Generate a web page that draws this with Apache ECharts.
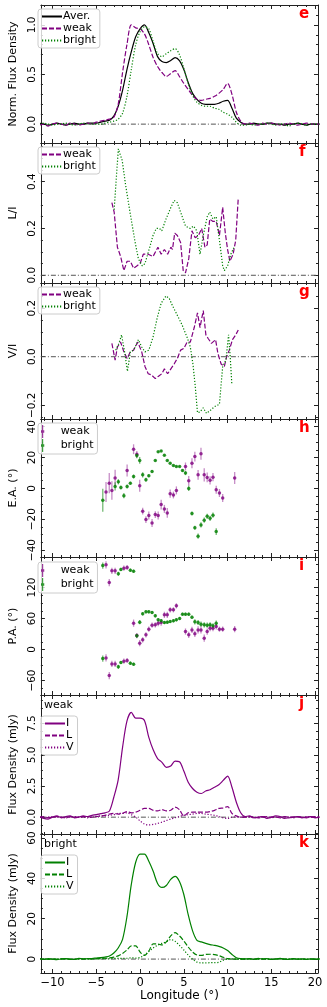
<!DOCTYPE html>
<html>
<head>
<meta charset="utf-8">
<script src="https://cdn.jsdelivr.net/npm/echarts@6/dist/echarts.min.js"></script>
<style>
  html, body { margin: 0; padding: 0; background: #fff; }
  #chart { width: 327px; height: 1007px; }
</style>
</head>
<body>
<div id="chart"></div>
<script>
// ---- longitude grid for the profiles (deg) ----
const lonGrid = [
  -11.5, -11, -10.5, -10, -9.5, -9, -8.5, -8, -7.5, -7, -6.5, -6, -5.5,
  -5, -4.5, -4, -3.5, -3, -2.5, -2, -1.5, -1, -0.5, 0, 0.5, 1, 1.5, 2, 2.5, 3, 3.5, 4, 4.5,
  5, 5.5, 6, 6.5, 7, 7.5, 8, 8.5, 9, 9.5, 10, 10.5, 11, 11.5, 12,
  12.5, 13, 13.5, 14, 14.5, 15, 15.5, 16, 16.5, 17, 17.5, 18, 18.5, 19, 19.5, 20, 20.5
];

// panel e : normalised profiles
const normAver = [
  0.01, 0.0, -0.01, 0.0, 0.01, 0.0, -0.01, 0.0, 0.01, 0.0, 0.0, 0.01, 0.01,
  0.01, 0.02, 0.03, 0.04, 0.08, 0.18, 0.34, 0.55, 0.73, 0.88, 0.96, 1.0, 0.92, 0.81, 0.68,
  0.63, 0.62, 0.64, 0.67, 0.64, 0.55, 0.42, 0.31, 0.25, 0.21, 0.2, 0.2, 0.2, 0.21, 0.23,
  0.24, 0.16, 0.06, 0.02, 0.0,
  0.0, 0.01, 0.0, 0.0, 0.01, 0.01, 0.0, 0.0, -0.01, 0.0, 0.0, 0.01, 0.0, -0.01, 0.0, 0.0, 0.0
];
const normWeak = [
  -0.01, 0.0, -0.02, 0.0, 0.01, 0.0, -0.01, 0.01, 0.0, -0.01, 0.0, 0.01, 0.0,
  0.02, 0.03, 0.04, 0.05, 0.07, 0.2, 0.52, 0.8, 1.0, 0.97, 0.96, 0.91, 0.8, 0.67, 0.58,
  0.52, 0.48, 0.51, 0.54, 0.48, 0.41, 0.35, 0.29, 0.25, 0.24, 0.25, 0.26, 0.28, 0.31, 0.35,
  0.41, 0.3, 0.12, 0.03, 0.0,
  0.01, 0.0, -0.01, 0.01, 0.0, 0.01, 0.0, -0.01, 0.0, 0.01, 0.0, -0.01, 0.0, 0.01, 0.0, 0.0, 0.0
];
const normBright = [
  0.0, 0.01, 0.0, -0.01, 0.0, 0.0, 0.01, 0.0, -0.01, 0.0, 0.01, 0.0, 0.0,
  0.0, 0.0, 0.01, 0.02, 0.03, 0.05, 0.11, 0.28, 0.55, 0.8, 0.93, 0.98, 0.96, 0.83, 0.71,
  0.68, 0.71, 0.74, 0.76, 0.7, 0.56, 0.41, 0.29, 0.22, 0.19, 0.18, 0.18, 0.16, 0.15, 0.12,
  0.1, 0.07, 0.02, -0.01, -0.01,
  0.0, -0.01, 0.0, 0.0, 0.01, 0.0, -0.01, 0.0, 0.0, -0.02, 0.0, 0.01, 0.0, -0.01, 0.0, 0.0, 0.0
];

// panel f : L/I  [lon, value]
const weakLI = [
  [-3.22, 0.31], [-2.96, 0.27], [-2.59, 0.12], [-2.22, 0.08], [-1.85, 0.02], [-1.48, 0.06],
  [-1.11, 0.06], [-0.74, 0.03], [-0.37, 0.04], [0, 0.05], [0.37, 0.09], [0.93, 0.09],
  [1.48, 0.08], [2.04, 0.12], [2.41, 0.09], [2.78, 0.11], [3.15, 0.09], [3.52, 0.12],
  [3.7, 0.11], [3.96, 0.18], [4.26, 0.17], [4.63, 0.14], [4.93, 0.02], [5.19, 0.01],
  [5.56, 0.07], [5.93, 0.19], [6.3, 0.16], [6.67, 0.17], [7.04, 0.2], [7.41, 0.12],
  [7.67, 0.13], [7.96, 0.24], [8.33, 0.23], [8.7, 0.23], [9.07, 0.17], [9.44, 0.29],
  [9.74, 0.18], [10.0, 0.11], [10.26, 0.06], [10.63, 0.09], [10.93, 0.15], [11.22, 0.33]
];
const brightLI = [
  [-2.96, 0.28], [-2.48, 0.54], [-2.04, 0.49], [-1.67, 0.39], [-1.11, 0.26], [-0.56, 0.14],
  [-0.19, 0.07], [0.26, 0.04], [0.56, 0.05], [1.11, 0.12], [1.48, 0.17], [1.85, 0.2],
  [2.22, 0.2], [2.48, 0.19], [2.96, 0.24], [3.52, 0.29], [3.89, 0.32], [4.26, 0.31],
  [4.63, 0.27], [5.19, 0.21], [5.74, 0.2], [6.11, 0.21], [6.48, 0.19], [6.85, 0.09],
  [7.22, 0.17], [7.67, 0.25], [7.96, 0.27], [8.33, 0.24], [8.7, 0.25], [9.07, 0.15],
  [9.44, 0.04], [9.63, 0.02], [10.0, 0.04], [10.37, 0.09], [10.74, 0.12]
];

// panel g : V/I  [lon, value]
const weakVI = [
  [-3.22, 0.055], [-2.85, -0.014], [-2.59, 0.04], [-2.22, 0.06], [-1.85, 0.02], [-1.48, -0.007],
  [-1.11, 0.02], [-0.74, 0.027], [-0.26, 0.06], [0.19, 0.02], [0.56, -0.04], [0.93, -0.07],
  [1.3, -0.075], [1.74, -0.09], [2.11, -0.08], [2.48, -0.07], [2.78, -0.05], [3.15, -0.07],
  [3.52, -0.05], [3.89, -0.03], [4.26, -0.007], [4.63, 0.027], [5.0, 0.034], [5.37, 0.06],
  [5.74, 0.06], [6.19, 0.12], [6.56, 0.18], [6.85, 0.12], [7.22, 0.19], [7.52, 0.09],
  [7.78, 0.075], [8.15, 0.055], [8.63, 0.07], [8.89, 0.014], [9.26, -0.03], [9.63, -0.04],
  [9.89, 0.0], [10.19, 0.027], [10.56, 0.07], [10.93, 0.09], [11.22, 0.11]
];
const brightVI = [
  [-2.78, 0.027], [-2.41, 0.055], [-2.11, 0.09], [-1.74, 0.014], [-1.44, -0.06], [-1.11, 0.02],
  [-0.74, 0.027], [-0.19, 0.07], [0.19, 0.04], [0.56, 0.02], [1.0, 0.027], [1.48, 0.08],
  [1.96, 0.16], [2.41, 0.22], [2.96, 0.25], [3.33, 0.24], [3.7, 0.21], [4.26, 0.17],
  [4.81, 0.13], [5.37, 0.08], [5.74, 0.04], [6.04, -0.03], [6.3, -0.12], [6.56, -0.23],
  [6.85, -0.227], [7.22, -0.21], [7.59, -0.233], [8.04, -0.22], [8.52, -0.205], [9.07, -0.195],
  [9.44, -0.04], [9.81, -0.014], [10.11, 0.09], [10.3, 0.0], [10.48, -0.11]
];

// panel h : E.A. [lon, value, error]
const weakEA = [
  [-3.89, -2.4, 6.5], [-3.52, 3.4, 6.5], [-3.22, -1.3, 6.0], [-2.85, 6.7, 5.4], [-1.48, 11.6, 3.9],
  [-0.74, 25.4, 3.2], [-0.37, 22.1, 2.2], [-0.04, 1.7, 3.9], [0.3, -14.8, 2.2], [0.67, -20.2, 2.2],
  [1.0, -17.6, 2.6], [1.37, -22.4, 2.6], [1.74, -17.0, 2.2], [2.07, -17.6, 2.6], [2.41, -10.5, 3.2],
  [2.78, -13.3, 2.6], [3.11, -15.9, 3.2], [3.44, -3.4, 2.6], [3.81, -4.3, 2.2], [4.15, -1.3, 2.6],
  [5.19, 14.2, 2.6], [5.56, 4.9, 3.2], [5.93, 16.3, 3.2], [6.26, 20.6, 3.2], [6.63, 8.8, 3.2],
  [6.96, 22.4, 3.9], [7.33, 8.8, 4.3], [7.67, 7.1, 3.2], [8.0, 5.2, 2.6], [8.33, 7.3, 2.6],
  [8.7, -0.9, 2.6], [9.07, -3.0, 2.6], [9.44, -6.2, 2.6], [10.81, 6.7, 3.9]
];
const brightEA = [
  [-4.26, -7.7, 7.5], [-2.85, 1.3, 2.6], [-2.48, 4.3, 1.7], [-2.19, 0.6, 1.3], [-1.85, -4.7, 1.7],
  [-1.48, 1.3, 1.3], [-1.11, 3.4, 0.9], [-0.74, 7.7, 1.3], [-0.37, 21.3, 1.7], [-0.04, 18.1, 2.2],
  [0.3, 8.8, 1.7], [0.67, 5.6, 1.3], [1.0, 8.2, 0.9], [1.37, 11.0, 0.9], [1.74, 18.1, 0.6],
  [2.07, 23.7, 0.6], [2.41, 24.3, 0.6], [2.78, 21.5, 0.6], [3.11, 18.1, 0.6], [3.44, 16.3, 0.6],
  [3.81, 14.8, 0.6], [4.15, 14.2, 0.6], [4.52, 14.2, 0.6], [4.85, 11.6, 0.9], [5.19, 9.9, 1.3],
  [5.56, 0.0, 1.7], [5.93, -16.3, 1.3], [6.26, -25.6, 1.3], [6.63, -31.0, 1.7], [6.96, -23.7, 1.7],
  [7.33, -20.6, 1.7], [7.67, -18.1, 1.7], [8.0, -19.4, 1.7], [8.33, -17.4, 1.7], [8.7, -28.0, 2.2]
];

// panel i : P.A. [lon, value, error]
const weakPA = [
  [-3.89, 163.8, 7], [-3.52, 129.6, 7], [-3.22, 152.2, 6], [-2.85, 152.2, 6], [-1.85, 157.4, 5], [-1.48, 158.7, 5],
  [-3.89, -16.2, 7], [-3.52, -50.4, 7], [-3.22, -27.8, 6], [-2.85, -27.8, 6], [-1.85, -22.6, 5], [-1.48, -21.3, 5],
  [-0.74, 51.0, 7], [-0.37, 27.0, 5], [-0.04, 12.3, 6], [0.3, 18.7, 5], [0.67, 28.4, 5], [1.0, 39.3, 5],
  [1.37, 47.1, 5], [1.74, 47.7, 5], [2.07, 51.0, 6], [2.41, 52.2, 6], [2.78, 67.1, 6], [3.11, 67.1, 6],
  [3.44, 76.8, 5], [3.81, 76.8, 5], [4.15, 84.5, 5], [5.19, 34.8, 6], [5.56, 28.4, 6], [5.93, 38.0, 6],
  [6.26, 30.3, 6], [6.63, 38.0, 7], [6.96, 38.0, 7], [7.33, 21.9, 7], [7.67, 34.8, 6], [8.0, 41.3, 6],
  [8.33, 41.3, 6], [8.7, 44.5, 6], [9.07, 39.3, 5], [9.44, 39.3, 5], [10.81, 39.3, 6]
];
const brightPA = [
  [-4.26, 162.5, 6], [-2.48, 146.5, 4], [-2.19, 155.0, 3], [-1.11, 153.6, 3], [-0.74, 151.6, 3],
  [-4.26, -17.5, 6], [-2.48, -33.5, 4], [-2.19, -25.0, 3], [-1.11, -26.4, 3], [-0.74, -28.4, 3],
  [-0.37, 26.4, 4], [-0.04, 52.9, 4], [0.3, 69.0, 3], [0.67, 72.9, 3], [1.0, 72.9, 3], [1.37, 71.6, 3],
  [1.74, 65.1, 3], [2.07, 57.4, 3], [2.41, 55.5, 3], [2.78, 52.2, 3], [3.11, 52.9, 3], [3.44, 54.2, 3],
  [3.81, 55.5, 3], [4.15, 57.4, 3], [4.52, 60.0, 3], [4.85, 68.4, 3], [5.19, 68.4, 3], [5.56, 68.4, 3],
  [5.93, 62.6, 3], [6.26, 53.5, 5], [6.63, 52.2, 5], [6.96, 49.0, 5], [7.33, 47.7, 5], [7.67, 47.1, 5],
  [8.0, 47.7, 5], [8.33, 45.8, 5], [8.7, 51.0, 5]
];

// panel j : weak profile (mJy)
const weakI = [
  0.05, -0.1, -0.15, 0.0, 0.1, -0.05, 0.05, 0.1, -0.05, 0.0, 0.1, 0.05, 0.15,
  0.2, 0.28, 0.35, 0.5, 1.6, 3.0, 5.6, 7.7, 8.4, 7.95, 7.95, 7.75, 6.4, 5.4, 4.7,
  4.4, 4.0, 4.1, 4.5, 4.45, 3.7, 2.8, 2.3, 2.0, 1.9, 2.1, 2.2, 2.4, 2.6, 2.95,
  3.3, 2.4, 1.2, 0.35, 0.05,
  0.1, -0.05, 0.0, 0.05, -0.1, 0.0, 0.1, 0.05, -0.1, -0.05, 0.0, 0.05, -0.05, 0.0, 0.05, -0.05, 0.0
];
const weakL = [
  0.0, 0.05, -0.05, 0.0, 0.05, 0.0, -0.05, 0.05, 0.0, 0.0, 0.05, 0.05, 0.0,
  0.05, 0.1, 0.15, 0.25, 0.3, 0.25, 0.3, 0.45, 0.35, 0.4, 0.55, 0.7, 0.7, 0.55, 0.5,
  0.6, 0.5, 0.55, 0.8, 0.6, 0.1, 0.35, 0.4, 0.4, 0.4, 0.4, 0.45, 0.55, 0.7, 0.75,
  0.85, 0.3, 0.1, 0.0, 0.0,
  0.05, 0.0, -0.05, 0.0, 0.05, 0.0, 0.0, -0.05, 0.05, 0.0, 0.0, 0.05, 0.0, -0.05, 0.0, 0.05, 0.0
];
const weakV = [
  0.0, -0.05, 0.0, 0.05, 0.0, 0.0, -0.05, 0.0, 0.05, 0.0, 0.0, -0.05, 0.0,
  0.05, 0.1, 0.1, 0.15, 0.2, 0.3, 0.3, 0.35, 0.2, 0.0, -0.3, -0.55, -0.62, -0.58, -0.5,
  -0.4, -0.27, -0.15, -0.05, 0.05, 0.15, 0.2, 0.25, 0.3, 0.3, 0.25, 0.2, 0.15, 0.05, -0.05,
  -0.1, 0.0, 0.02, 0.0, 0.0,
  0.0, -0.05, 0.0, 0.05, 0.0, -0.05, 0.0, 0.0, 0.05, 0.0, -0.05, 0.0, 0.0, 0.05, 0.0, 0.0, 0.0
];

// panel k : bright profile (mJy)
const brightI = [
  0.3, -0.2, 0.2, 0.0, -0.3, 0.1, 0.2, 0.0, -0.2, 0.3, 0.1, 0.2, 0.3,
  0.5, 0.7, 1.0, 1.5, 3.0, 5.5, 9.8, 21.0, 37.0, 48.0, 52.0, 52.0, 48.5, 43.5, 37.5,
  35.5, 36.5, 39.5, 41.0, 38.5, 32.0, 22.0, 14.0, 9.3, 8.5, 7.8, 7.2, 6.8, 6.3, 5.5,
  4.2, 2.3, 0.7, 0.2, 0.1,
  0.2, -0.1, 0.3, 0.0, 0.2, -0.2, 0.1, 0.3, 0.0, -0.1, 0.2, 0.0, 0.1, -0.2, 0.1, 0.0, 0.1
];
const brightL = [
  0.1, 0.0, -0.1, 0.1, 0.0, 0.1, 0.0, -0.1, 0.0, 0.1, 0.0, 0.1, 0.1,
  0.2, 0.3, 0.4, 0.6, 1.0, 1.6, 2.8, 4.5, 6.5, 6.5, 3.5, 1.8, 4.0, 7.5, 7.5,
  7.0, 8.5, 11.5, 13.1, 11.5, 9.0, 6.0, 3.5, 2.0, 1.8, 2.3, 2.4, 2.2, 1.7, 0.9,
  0.2, 0.0, 0.0, 0.0, 0.0,
  0.1, 0.0, 0.0, 0.1, 0.0, -0.1, 0.0, 0.1, 0.0, 0.0, 0.1, 0.0, 0.0, -0.1, 0.0, 0.0, 0.1
];
const brightV = [
  0.0, 0.1, 0.0, -0.1, 0.0, 0.0, 0.1, 0.0, -0.1, 0.0, 0.1, 0.0, 0.0,
  0.1, 0.1, 0.2, 0.2, 0.3, 0.3, 0.3, 0.4, 0.6, 0.5, 0.8, 2.0, 3.8, 5.5, 6.9,
  7.8, 8.6, 9.7, 8.8, 6.8, 4.5, 2.0, 0.0, -1.5, -1.9, -1.9, -1.8, -1.8, -1.6, -0.6,
  0.0, 0.1, 0.0, 0.0, 0.0,
  0.0, -0.1, 0.0, 0.1, 0.0, 0.0, -0.1, 0.0, 0.0, 0.1, 0.0, 0.0, -0.1, 0.0, 0.0, 0.0, 0.0
];

// ---- tick labels ----
const lonTicks = [-10, -5, 0, 5, 10, 15, 20];
const eTicks = [0, 0.5, 1.0];
const fTicks = [0, 0.2, 0.4];
const gTicks = [-0.2, 0, 0.2];
const hTicks = [-40, -20, 0, 20, 40];
const iTicks = [-60, 0, 60, 120];
const jTicks = [0, 2.5, 5, 7.5];
const kTicks = [0, 20, 40, 60];

// ---- layout / style ----
const FONT = 'DejaVu Sans';
const X_MIN = -11.33, X_MAX = 20.33;
const panelTop = [5, 143, 283, 419, 557, 695, 834];
const panelH = [138, 140, 136, 138, 138, 139, 139];
const PURPLE = '#800080', GREEN = '#008000';
const DASH = [5, 2], DOT = [1.2, 1.8];

const panels = [
  { id: 'e', min: -0.19, max: 1.2, ticks: eTicks, minor: 0.1, dec: 1, name: 'Norm. Flux Density' },
  { id: 'f', min: -0.033, max: 0.565, ticks: fTicks, minor: 0.05, dec: 1, name: 'L/I' },
  { id: 'g', min: -0.256, max: 0.303, ticks: gTicks, minor: 0.05, dec: 1, name: 'V/I' },
  { id: 'h', min: -44.5, max: 45, ticks: hTicks, minor: 5, dec: 0, name: 'E.A. (\u00b0)' },
  { id: 'i', min: -88, max: 179, ticks: iTicks, minor: 15, dec: 0, name: 'P.A. (\u00b0)' },
  { id: 'j', min: -1.35, max: 9.8, ticks: jTicks, minor: 0.625, dec: 1, name: 'Flux Density (mJy)' },
  { id: 'k', min: -6.9, max: 62, ticks: kTicks, minor: 5, dec: 0, name: 'Flux Density (mJy)' }
];

function minorValues(min, max, step, majors) {
  const out = [];
  const a = Math.ceil(min / step - 1e-9), b = Math.floor(max / step + 1e-9);
  for (let i = a; i <= b; i++) {
    const v = +(i * step).toFixed(6);
    if (!majors.some(m => Math.abs(m - v) < 1e-9)) out.push(v);
  }
  return out;
}
const fmt = dec => v => {
  const s = Number(v).toFixed(dec);
  return s.replace('-', '\u2212');
};

const grid = [], xAxis = [], yAxis = [];
const lineColor = '#222';
const xMinor = minorValues(X_MIN, X_MAX, 1, lonTicks);

panels.forEach((p, k) => {
  grid.push({ left: 33, right: 9, top: panelTop[k], height: panelH[k] });
  const last = k === panels.length - 1;
  ['bottom', 'top'].forEach(pos => {
    const labelled = last && pos === 'bottom';
    xAxis.push({
      gridIndex: k, type: 'value', position: pos, min: X_MIN, max: X_MAX,
      axisLine: { show: true, onZero: false, lineStyle: { color: lineColor, width: 1 } },
      splitLine: { show: false },
      axisTick: { inside: true, length: 4, customValues: lonTicks, lineStyle: { color: lineColor } },
      axisLabel: { show: labelled, customValues: lonTicks, formatter: fmt(0), fontFamily: FONT, fontSize: 11.5, color: '#000', margin: 4 },
      name: labelled ? 'Longitude (\u00b0)' : '', nameLocation: 'middle', nameGap: 16,
      nameTextStyle: { fontFamily: FONT, fontSize: 12, color: '#000' }
    });
    xAxis.push({
      gridIndex: k, type: 'value', position: pos, min: X_MIN, max: X_MAX,
      axisLine: { show: false, onZero: false }, splitLine: { show: false },
      axisTick: { inside: true, length: 2, customValues: xMinor, lineStyle: { color: lineColor } },
      axisLabel: { show: false }
    });
  });
  const yMinor = minorValues(p.min, p.max, p.minor, p.ticks);
  ['left', 'right'].forEach(pos => {
    const labelled = pos === 'left';
    yAxis.push({
      gridIndex: k, type: 'value', position: pos, min: p.min, max: p.max,
      axisLine: { show: true, onZero: false, lineStyle: { color: lineColor, width: 1 } },
      splitLine: { show: false },
      axisTick: { inside: true, length: 4, customValues: p.ticks, lineStyle: { color: lineColor } },
      axisLabel: { show: labelled, customValues: p.ticks, rotate: 90, formatter: fmt(p.dec), fontFamily: FONT, fontSize: 10.5, color: '#000', margin: 3 },
      name: labelled ? p.name : '', nameLocation: 'middle', nameGap: 15,
      nameTextStyle: { fontFamily: FONT, fontSize: 11, color: '#000' }
    });
    yAxis.push({
      gridIndex: k, type: 'value', position: pos, min: p.min, max: p.max,
      axisLine: { show: false, onZero: false }, splitLine: { show: false },
      axisTick: { inside: true, length: 2, customValues: yMinor, lineStyle: { color: lineColor } },
      axisLabel: { show: false }
    });
  });
});

const zip = vals => lonGrid.map((x, i) => [x, vals[i]]);

function line(name, k, data, color, type, smooth) {
  return {
    name, type: 'line', xAxisIndex: 4 * k, yAxisIndex: 4 * k, data,
    symbol: 'none', showSymbol: false, smooth: smooth ? 0.3 : false, silent: true, z: 3,
    lineStyle: { color, width: 1.2, type }, itemStyle: { color }
  };
}
function zeroLine(k) {
  return {
    type: 'line', xAxisIndex: 4 * k, yAxisIndex: 4 * k, data: [[X_MIN, 0], [X_MAX, 0]],
    symbol: 'none', silent: true, z: 2,
    lineStyle: { color: '#555', width: 1, type: [5, 2, 1, 2] }
  };
}
function errBars(name, k, data, color) {
  return {
    name, type: 'custom', xAxisIndex: 4 * k, yAxisIndex: 4 * k, data, silent: true, z: 3,
    encode: { x: 0, y: 1 },
    renderItem: (params, api) => {
      const x = api.value(0), y = api.value(1), e = api.value(2);
      const a = api.coord([x, y - e]), b = api.coord([x, y + e]);
      return { type: 'line', shape: { x1: a[0], y1: a[1], x2: b[0], y2: b[1] }, style: { stroke: color, lineWidth: 1.3 } };
    }
  };
}
function dots(name, k, data, color) {
  return {
    name, type: 'scatter', xAxisIndex: 4 * k, yAxisIndex: 4 * k, data: data.map(d => [d[0], d[1]]),
    symbol: 'circle', symbolSize: 3.5, silent: true, z: 4, itemStyle: { color }
  };
}

const series = [
  zeroLine(0),
  line('e|Aver.', 0, zip(normAver), '#000', 'solid', true),
  line('e|weak', 0, zip(normWeak), PURPLE, DASH, true),
  line('e|bright', 0, zip(normBright), GREEN, DOT, true),
  zeroLine(1),
  line('f|weak', 1, weakLI, PURPLE, DASH, false),
  line('f|bright', 1, brightLI, GREEN, DOT, false),
  zeroLine(2),
  line('g|weak', 2, weakVI, PURPLE, DASH, false),
  line('g|bright', 2, brightVI, GREEN, DOT, false),
  errBars('h|weak-err', 3, weakEA, 'rgba(128,0,128,0.45)'),
  errBars('h|bright-err', 3, brightEA, 'rgba(0,128,0,0.55)'),
  dots('h|weak', 3, weakEA, PURPLE),
  dots('h|bright', 3, brightEA, GREEN),
  errBars('i|weak-err', 4, weakPA, 'rgba(128,0,128,0.45)'),
  errBars('i|bright-err', 4, brightPA, 'rgba(0,128,0,0.55)'),
  dots('i|weak', 4, weakPA, PURPLE),
  dots('i|bright', 4, brightPA, GREEN),
  zeroLine(5),
  line('j|I', 5, zip(weakI), PURPLE, 'solid', true),
  line('j|L', 5, zip(weakL), PURPLE, DASH, true),
  line('j|V', 5, zip(weakV), PURPLE, DOT, true),
  zeroLine(6),
  line('k|I', 6, zip(brightI), GREEN, 'solid', true),
  line('k|L', 6, zip(brightL), GREEN, DASH, true),
  line('k|V', 6, zip(brightV), GREEN, DOT, true)
];

const ERR_ICON = 'path://M4.3,0h1.4v16h-1.4z M3,6.5h4v3h-4z';
function legend(names, left, top, icon) {
  const lg = {
    data: names.map(n => icon ? { name: n, icon } : { name: n }),
    left, top, orient: 'vertical', itemGap: 1,
    itemWidth: icon ? 10 : 20, itemHeight: icon ? 13 : 10,
    padding: [2, 4, 2, 3], borderColor: '#ccc', borderWidth: 1, borderRadius: 3,
    backgroundColor: 'rgba(255,255,255,0.8)', selectedMode: false,
    formatter: n => n.split('|')[1],
    textStyle: { fontFamily: FONT, fontSize: 11, color: '#000', padding: [0, 0, 0, icon ? 8 : -4] }
  };
  if (!icon) lg.itemStyle = { opacity: 0 };
  return lg;
}

const graphic = panels.map((p, k) => ({
  type: 'text', left: 299, top: panelTop[k] + 2,
  style: { text: p.id, fill: '#ff0000', font: 'bold 15px "DejaVu Sans"' }
}));
graphic.push({ type: 'text', left: 44, top: panelTop[5] + 5, style: { text: 'weak', fill: '#000', font: '11px "DejaVu Sans"' } });
graphic.push({ type: 'text', left: 44, top: panelTop[6] + 5, style: { text: 'bright', fill: '#000', font: '11px "DejaVu Sans"' } });

const chart = echarts.init(document.getElementById('chart'), null, { renderer: 'canvas' });
chart.setOption({
  animation: false,
  backgroundColor: '#fff',
  textStyle: { fontFamily: FONT },
  grid, xAxis, yAxis, series, graphic,
  legend: [
    legend(['e|Aver.', 'e|weak', 'e|bright'], 38, 9),
    legend(['f|weak', 'f|bright'], 38, 147),
    legend(['g|weak', 'g|bright'], 38, 287),
    legend(['h|weak', 'h|bright'], 38, 423, ERR_ICON),
    legend(['i|weak', 'i|bright'], 38, 562, ERR_ICON),
    legend(['j|I', 'j|L', 'j|V'], 41, 716),
    legend(['k|I', 'k|L', 'k|V'], 41, 855)
  ]
});
</script>
</body>
</html>
